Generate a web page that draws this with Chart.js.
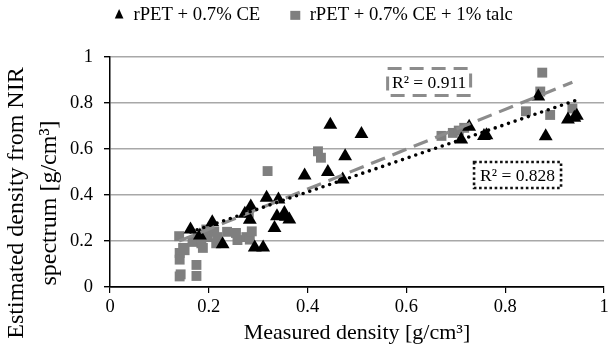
<!DOCTYPE html>
<html><head><meta charset="utf-8">
<script src="https://cdn.jsdelivr.net/npm/chart.js@4.4.1/dist/chart.umd.min.js"></script>
<style>html,body{margin:0;padding:0;background:#fff}#wrap{width:612px;height:351px}</style>
</head><body><div id="wrap"><canvas id="c" width="612" height="351"></canvas></div>
<script>
// ---- data ----
const seriesNames = ['rPET + 0.7% CE', 'rPET + 0.7% CE + 1% talc'];
const ceX = [0.163,0.182,0.207,0.228,0.273,0.285,0.283,0.293,0.310,0.317,0.333,0.341,0.338,0.353,0.363,0.356,0.394,0.441,0.446,0.476,0.471,0.509,0.711,0.727,0.757,0.762,0.867,0.882,0.927,0.940,0.945];
const ceY = [0.250,0.224,0.282,0.186,0.318,0.350,0.292,0.172,0.172,0.388,0.257,0.380,0.308,0.322,0.293,0.305,0.485,0.500,0.705,0.569,0.467,0.665,0.641,0.697,0.656,0.660,0.828,0.655,0.728,0.736,0.745];
const talcX = [0.140,0.141,0.141,0.141,0.143,0.148,0.151,0.167,0.175,0.175,0.177,0.185,0.188,0.195,0.197,0.211,0.215,0.217,0.237,0.255,0.258,0.276,0.283,0.287,0.281,0.319,0.421,0.427,0.671,0.694,0.706,0.717,0.842,0.871,0.875,0.891,0.936];
const talcY = [0.221,0.148,0.119,0.046,0.055,0.170,0.160,0.196,0.048,0.096,0.217,0.190,0.170,0.250,0.217,0.240,0.190,0.217,0.240,0.235,0.204,0.217,0.206,0.242,0.322,0.504,0.590,0.562,0.657,0.670,0.680,0.692,0.764,0.850,0.932,0.748,0.776];
// linear trendlines (end points)
const ceTrendX = [0.163, 0.945];
const ceTrendY = [0.239, 0.813];
const talcTrendX = [0.140, 0.936];
const talcTrendY = [0.200, 0.890];
const r2Labels = ['R\u00B2 = 0.911', 'R\u00B2 = 0.828'];
const tickValues = [0, 0.2, 0.4, 0.6, 0.8, 1];
const tickLabels = ['0', '0.2', '0.4', '0.6', '0.8', '1'];
const xTitle = 'Measured density [g/cm\u00B3]';
const yTitle = ['Estimated density from NIR', 'spectrum [g/cm\u00B3]'];

// ---- presentation ----
const FONT = "'Liberation Serif', 'Times New Roman', serif";
const toPts = (xs, ys) => xs.map((x, i) => ({x, y: ys[i]}));
const r2Boxes = [
  {x: 0.646, y: 0.891, w: 83, h: 27, color: '#8c8c8c', width: 3, dash: [14, 8], cap: 'butt'},
  {x: 0.825, y: 0.487, w: 87, h: 26, color: '#111', width: 2.6, dash: [2.6, 2.6], cap: 'butt'}
];
const LEGEND_PAD = 30;
const LEGEND_TOP = -24;
const LEGEND_HEIGHT = 57 - LEGEND_TOP;
const LEGEND_SHIFT_X = 10;

const annotPlugin = {
  id: 'annot',
  beforeLayout(chart) {
    const lg = chart.legend;
    if (lg && !lg._hfix) {
      const f = lg.fit.bind(lg);
      lg.fit = function () { f(); this.height = LEGEND_HEIGHT; };
      const d = lg.draw.bind(lg);
      lg.draw = function () {
        const c = this.ctx; c.save(); c.translate(LEGEND_SHIFT_X, 0); d(); c.restore();
      };
      lg._hfix = true;
    }
  },
  afterDatasetsDraw(chart) {
    const {ctx, scales} = chart;
    ctx.save();
    r2Boxes.forEach((b, i) => {
      const cx = scales.x.getPixelForValue(b.x), cy = scales.y.getPixelForValue(b.y);
      ctx.fillStyle = '#fff';
      ctx.fillRect(cx - b.w/2, cy - b.h/2, b.w, b.h);
      ctx.strokeStyle = b.color; ctx.lineWidth = b.width; ctx.setLineDash(b.dash); ctx.lineCap = b.cap;
      ctx.strokeRect(cx - b.w/2, cy - b.h/2, b.w, b.h);
      ctx.setLineDash([]);
      ctx.fillStyle = '#000';
      ctx.font = '17.5px ' + FONT;
      ctx.textAlign = 'center'; ctx.textBaseline = 'middle';
      ctx.fillText(r2Labels[i], cx, cy + 1);
    });
    // y-axis title (two lines, rotated)
    ctx.font = '24px ' + FONT;
    ctx.fillStyle = '#000';
    ctx.textAlign = 'center'; ctx.textBaseline = 'middle';
    const midY = 203;
    [17, 50].forEach((lx, i) => {
      ctx.save();
      ctx.translate(lx, midY);
      ctx.rotate(-Math.PI / 2);
      ctx.fillText(yTitle[i], 0, 0);
      ctx.restore();
    });
    ctx.restore();
  }
};

new Chart(document.getElementById('c'), {
  type: 'scatter',
  data: {
    datasets: [
      {label: seriesNames[0], data: toPts(ceX, ceY), pointStyle: 'triangle', pointRadius: 8, pointHoverRadius: 8,
       backgroundColor: '#000', borderColor: '#000', borderWidth: 0, order: 1},
      {label: seriesNames[1], data: toPts(talcX, talcY), pointStyle: 'rect', pointRadius: 7, pointHoverRadius: 7,
       backgroundColor: '#7f7f7f', borderColor: '#7f7f7f', borderWidth: 0, order: 2},
      {label: 'trend1', data: toPts(ceTrendX, ceTrendY), showLine: true, pointRadius: 0, borderColor: '#000',
       borderWidth: 3.6, borderDash: [0, 7], borderCapStyle: 'round', fill: false, order: 0},
      {label: 'trend2', data: toPts(talcTrendX, talcTrendY), showLine: true, pointRadius: 0, borderColor: '#8c8c8c',
       borderWidth: 3.2, borderDash: [15, 8], borderCapStyle: 'butt', fill: false, order: 0}
    ]
  },
  options: {
    responsive: false, animation: false, devicePixelRatio: 1,
    layout: {padding: {top: LEGEND_TOP, left: 0, right: 5, bottom: 0}},
    plugins: {
      tooltip: {enabled: false},
      legend: {
        position: 'top',
        labels: {
          usePointStyle: true, boxWidth: 10, boxHeight: 9, pointStyleWidth: 10, padding: LEGEND_PAD,
          color: '#000', font: {family: FONT, size: 18.7},
          filter: (item) => item.datasetIndex < 2
        }
      }
    },
    scales: {
      x: {
        type: 'linear', min: 0, max: 1,
        afterFit: (s) => { s.height = 64; },
        afterBuildTicks: (s) => { s.ticks = tickValues.map(v => ({value: v})); },
        ticks: {color: '#000', font: {family: FONT, size: 18.5}, padding: 3,
                callback: (v) => tickLabels[tickValues.indexOf(v)] ?? ''},
        grid: {drawOnChartArea: false, tickLength: 6, color: '#000', lineWidth: 1.2},
        border: {color: '#000', width: 1.5},
        title: {display: true, text: xTitle, color: '#000', font: {family: FONT, size: 22}, padding: {top: 0, bottom: 5}}
      },
      y: {
        type: 'linear', min: 0, max: 1,
        afterFit: (s) => { s.width = 110; },
        afterBuildTicks: (s) => { s.ticks = tickValues.map(v => ({value: v})); },
        ticks: {color: '#000', font: {family: FONT, size: 18.5}, padding: 11,
                callback: (v) => tickLabels[tickValues.indexOf(v)] ?? ''},
        grid: {color: (c) => c.tick && c.tick.value === 0 ? '#000' : '#a8a8a8', lineWidth: 1.4, tickLength: 6, tickColor: '#000'},
        border: {color: '#000', width: 1.5}
      }
    }
  },
  plugins: [annotPlugin]
});
</script></body></html>
